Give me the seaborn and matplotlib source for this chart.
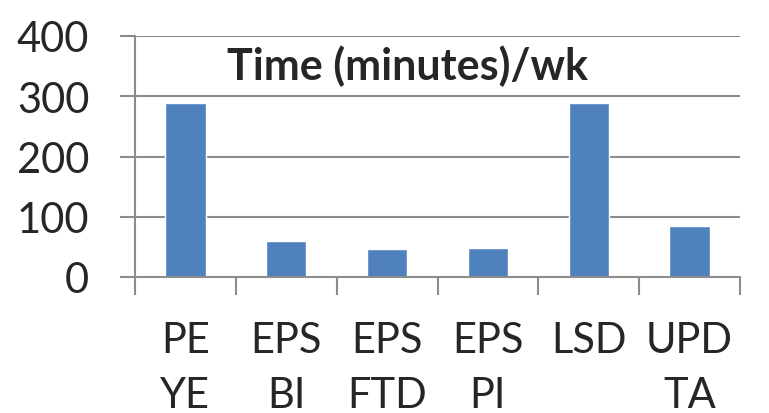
import matplotlib
matplotlib.use("Agg")
import matplotlib.pyplot as plt
import seaborn as sns
import pandas as pd

categories = ["PE\nYE", "EPS\nBI", "EPS\nFTD", "EPS\nPI", "LSD", "UPD\nTA"]
values = [288, 60, 47, 48, 288, 84]
y_ticks = [0, 100, 200, 300, 400]
title = "Time (minutes)/wk"

sns.set_theme(style="white")
plt.rcParams["font.family"] = ["Lato", "DejaVu Sans"]

df = pd.DataFrame({"cat": categories, "val": values})

fig = plt.figure(figsize=(7.69, 4.14), dpi=100)
ax = fig.add_axes([135 / 769, 1 - 278 / 414, (740 - 135) / 769, (278 - 37) / 414])
sns.barplot(data=df, x="cat", y="val", color="#4F81BD", saturation=1, width=0.4, ax=ax)

grid_c = "#8C8C8C"
ax.set_ylim(0, 400)
ax.set_xlim(-0.5, 5.5)
ax.set_yticks(y_ticks)
ax.set_yticklabels([str(t) for t in y_ticks], fontsize=30)
for t in y_ticks[1:]:
    ax.axhline(t, color=grid_c, lw=1.5, zorder=0)
ax.set_axisbelow(True)

ax.set_xticks([i - 0.5 for i in range(len(categories) + 1)])
ax.set_xticklabels([])
ax.set_xticks(range(len(categories)), minor=True)
ax.set_xticklabels(categories, minor=True, fontsize=30, linespacing=1.55, va="top",
                   multialignment="center")
ax.tick_params(axis="x", which="major", length=13, width=1.5, color=grid_c, direction="out", bottom=True)
ax.tick_params(axis="x", which="minor", length=0, pad=32, bottom=True)
ax.tick_params(axis="y", length=11, width=1.5, color=grid_c, direction="out", left=True, pad=22)

for s in ["top", "right"]:
    ax.spines[s].set_visible(False)
for s in ["left", "bottom"]:
    ax.spines[s].set_color(grid_c)
    ax.spines[s].set_linewidth(1.5)

ax.set_xlabel("")
ax.set_ylabel("")
ax.text(0.45, 0.822, title, transform=ax.transAxes, ha="center", va="baseline",
        fontsize=31, fontweight="bold")

fig.savefig("out.png", dpi=100)
